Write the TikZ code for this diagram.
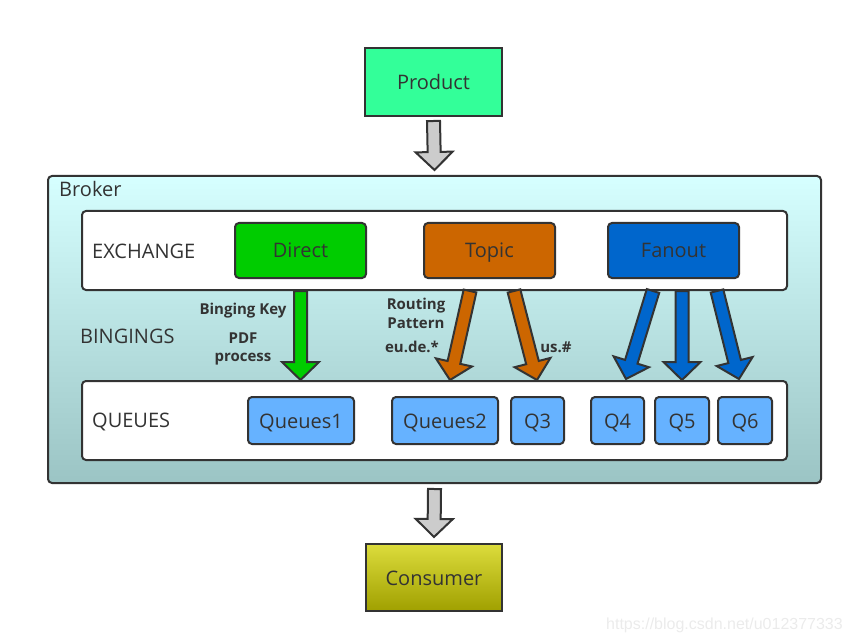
\documentclass[tikz,border=0pt]{standalone}
\usepackage{fontspec}
\setmainfont{Open Sans}
\newfontfamily\markfont{Liberation Sans}
\usetikzlibrary{calc}

\definecolor{edge}{RGB}{51,51,51}
\definecolor{productgreen}{RGB}{51,255,153}
\definecolor{directgreen}{RGB}{0,204,0}
\definecolor{topicorange}{RGB}{204,102,0}
\definecolor{fanoutblue}{RGB}{0,102,204}
\definecolor{queueblue}{RGB}{102,178,255}
\definecolor{brokertop}{RGB}{214,255,255}
\definecolor{brokerbottom}{RGB}{155,196,196}
\definecolor{consumertop}{RGB}{220,220,60}
\definecolor{consumerbottom}{RGB}{160,160,0}
\definecolor{arrowgray}{RGB}{204,204,204}

% fat arrow: fill, from, to
\newcommand{\bigarrow}[3]{%
\coordinate (hb) at ($(#3)!18pt!(#2)$);
\draw[edge,line width=2pt,fill=#1] ($(#2)!6.5pt!90:(#3)$) -- ($(hb)!6.5pt!90:(#3)$) -- ($(hb)!18.5pt!90:(#3)$) -- (#3)
 -- ($(hb)!18.5pt!-90:(#3)$) -- ($(hb)!6.5pt!-90:(#3)$) -- ($(#2)!6.5pt!-90:(#3)$) -- cycle;
}

\begin{document}
\begin{tikzpicture}[x=1pt,y=-1pt,
  box/.style={draw=edge,line width=2pt,text=edge,font=\fontsize{20}{24}\selectfont,inner sep=0pt,text height=15pt,text depth=0pt},
  exbox/.style={box,rounded corners=4pt,minimum width=131pt,minimum height=55pt},
  qbox/.style={box,rounded corners=4pt,fill=queueblue,minimum height=47pt},
  panel/.style={box,rounded corners=4pt,fill=white,minimum width=705pt,minimum height=79pt},
  lbl/.style={text=edge,font=\fontsize{20}{24}\selectfont,anchor=west,inner sep=0pt,text height=15pt,text depth=0pt},
  bindlbl/.style={text=edge,font=\fontsize{15}{19}\selectfont\bfseries,anchor=base,inner sep=0pt}]
\useasboundingbox (0,0) rectangle (853,644);

\node[box,fill=productgreen,minimum width=137pt,minimum height=68pt] (product) at (433.5,82) {Product};

\node[box,rounded corners=4pt,top color=brokertop,bottom color=brokerbottom,minimum width=773pt,minimum height=307pt] (broker) at (434.5,329.5) {};
\node[lbl] (brokerlbl) at (59,189) {Broker};

\node[panel] (exch) at (434.5,250.5) {};
\node[lbl] (exchlbl) at (92,251) {EXCHANGE};
\node[exbox,fill=directgreen] (direct) at (300.5,250.5) {Direct};
\node[exbox,fill=topicorange] (topic) at (489.5,250.5) {Topic};
\node[exbox,fill=fanoutblue] (fanout) at (673.5,250.5) {Fanout};

\node[lbl] (bindlbl) at (80,336) {BINGINGS};

\node[panel] (queues) at (434.5,420.5) {};
\node[lbl] (queueslbl) at (92,420) {QUEUES};
\node[qbox,minimum width=106pt] (q1) at (301,420.5) {Queues1};
\node[qbox,minimum width=106pt] (q2) at (445,420.5) {Queues2};
\node[qbox,minimum width=53pt] (q3) at (537.5,420.5) {Q3};
\node[qbox,minimum width=53pt] (q4) at (617.5,420.5) {Q4};
\node[qbox,minimum width=54pt] (q5) at (682,420.5) {Q5};
\node[qbox,minimum width=54pt] (q6) at (745,420.5) {Q6};

\node[box,top color=consumertop,bottom color=consumerbottom,minimum width=136pt,minimum height=67pt] (consumer) at (434,577.5) {Consumer};

\coordinate (in1) at ($(product.south)+(0,4)$);
\coordinate (in2) at ($(broker.north)+(0,-5)$);
\coordinate (out1) at ($(broker.south)+(0,5)$);
\coordinate (out2) at ($(consumer.north)+(0,-6)$);
\bigarrow{arrowgray}{in1}{in2}
\bigarrow{arrowgray}{out1}{out2}

\coordinate (d1) at (direct.south |- exch.south);
\coordinate (d2) at (direct.south |- queues.north);
\bigarrow{directgreen}{d1}{d2}

\coordinate (t1) at (470,291);
\coordinate (t2) at (450,380);
\coordinate (t3) at (514,291);
\coordinate (t4) at (537,380);
\bigarrow{topicorange}{t1}{t2}
\bigarrow{topicorange}{t3}{t4}

\coordinate (f1) at (653,291);
\coordinate (f2) at (626,379);
\coordinate (f3) at (682,291);
\coordinate (f4) at (682,380);
\coordinate (f5) at (717,291);
\coordinate (f6) at (739,379);
\bigarrow{fanoutblue}{f1}{f2}
\bigarrow{fanoutblue}{f3}{f4}
\bigarrow{fanoutblue}{f5}{f6}

\node[bindlbl] (bkey) at (243,314) {Binging Key};
\node[bindlbl] (pdf) at (243,343) {PDF};
\node[bindlbl] (process) at (243,361) {process};
\node[bindlbl] (routing) at (416,309) {Routing};
\node[bindlbl] (pattern) at (416,328) {Pattern};
\node[bindlbl] (eude) at (412,352) {eu.de.*};
\node[bindlbl] (us) at (556,352) {us.\#};

\node[text=black!8,font=\markfont\fontsize{16}{18}\selectfont,anchor=east,inner sep=0pt] (mark) at (843,625) {https://blog.csdn.net/u012377333};
\end{tikzpicture}
\end{document}
